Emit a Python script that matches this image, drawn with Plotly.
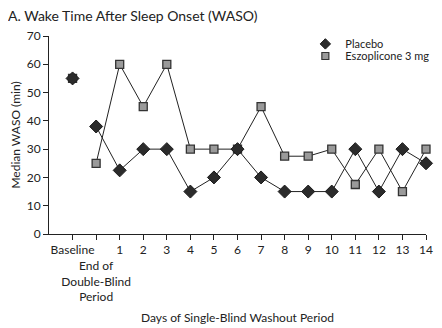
import plotly.graph_objects as go

categories = ["Baseline", "End of Double-Blind Period"] + [str(d) for d in range(1, 15)]
tick_labels = ["Baseline", "<br>End of<br>Double-Blind<br>Period"] + [str(d) for d in range(1, 15)]
placebo = [55, 38, 22.5, 30, 30, 15, 20, 30, 20, 15, 15, 15, 30, 15, 30, 25]
eszopiclone = [55, 25, 60, 45, 60, 30, 30, 30, 45, 27.5, 27.5, 30, 17.5, 30, 15, 30]
series_names = ["Placebo", "Eszoplicone 3 mg"]

xpos = list(range(len(categories)))
FONT = "Lato"

fig = go.Figure()
# connecting lines (baseline not connected)
fig.add_trace(go.Scatter(x=xpos[1:], y=placebo[1:], mode="lines",
                         line=dict(color="#222222", width=1), showlegend=False, hoverinfo="skip"))
fig.add_trace(go.Scatter(x=xpos[1:], y=eszopiclone[1:], mode="lines",
                         line=dict(color="#222222", width=1), showlegend=False, hoverinfo="skip"))
fig.add_trace(go.Scatter(x=xpos, y=eszopiclone, mode="markers", showlegend=False,
                         marker=dict(symbol="square", size=8, color="#9a9a9a",
                                     line=dict(color="#333333", width=1.3)),
                         cliponaxis=False))
fig.add_trace(go.Scatter(x=xpos, y=placebo, mode="markers", showlegend=False,
                         marker=dict(symbol="diamond", size=10, color="#2b2b2b",
                                     line=dict(color="#1a1a1a", width=1)),
                         cliponaxis=False))
# legend entries (small markers), each in its own legend for tight spacing
fig.add_trace(go.Scatter(x=[None], y=[None], mode="markers", name=series_names[0],
                         marker=dict(symbol="diamond", size=8, color="#2b2b2b",
                                     line=dict(color="#1a1a1a", width=1)), legend="legend"))
fig.add_trace(go.Scatter(x=[None], y=[None], mode="markers", name=series_names[1],
                         marker=dict(symbol="square", size=7, color="#9a9a9a",
                                     line=dict(color="#333333", width=1.2)), legend="legend2"))

leg_common = dict(xanchor="left", yanchor="middle", bgcolor="rgba(0,0,0,0)",
                  font=dict(size=11, family=FONT, color="#222222"), itemwidth=30,
                  borderwidth=0)
fig.update_layout(
    width=426, height=320,
    margin=dict(l=41, r=8, t=28, b=94, autoexpand=False),
    paper_bgcolor="white", plot_bgcolor="white",
    font=dict(family=FONT, size=12, color="#222222"),
    title=dict(text="A. Wake Time After Sleep Onset (WASO)", x=0.0, xanchor="left",
               y=0.974, yanchor="middle", font=dict(size=14, family=FONT, color="#222222")),
    legend=dict(x=0.68, y=0.96, **leg_common),
    legend2=dict(x=0.68, y=0.899, **leg_common),
    showlegend=True,
)
fig.update_xaxes(range=[-1, 15], tickmode="array", tickvals=xpos, ticktext=tick_labels,
                 showgrid=False, zeroline=False, showline=True, linecolor="#222222", linewidth=1,
                 ticks="outside", ticklen=5, tickcolor="#222222", tickangle=0, automargin=False,
                 title=dict(text="Days of Single-Blind Washout Period", standoff=10,
                            font=dict(size=12, family=FONT)))
fig.update_yaxes(range=[0, 70], tickvals=[0, 10, 20, 30, 40, 50, 60, 70],
                 showgrid=False, zeroline=False, showline=True, linecolor="#222222", linewidth=1,
                 ticks="outside", ticklen=5, tickcolor="#222222", automargin=False,
                 title=dict(text="Median WASO (min)", standoff=6, font=dict(size=12, family=FONT)))

fig.write_html("out.html")
